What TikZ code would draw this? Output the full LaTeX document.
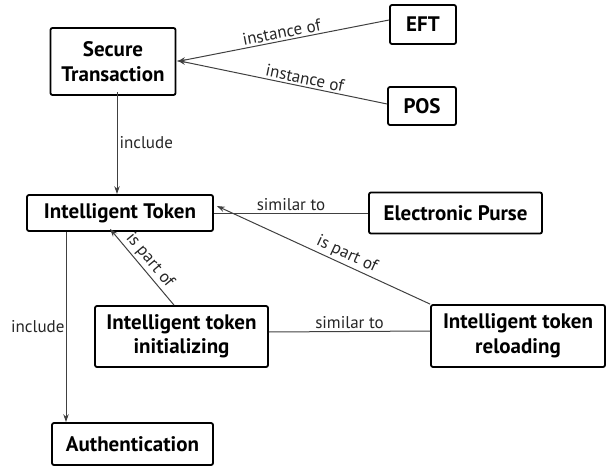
\documentclass[tikz,border=0pt]{standalone}
\usepackage{fontspec}
\setmainfont{PT Sans}
\usetikzlibrary{arrows.meta}
\begin{document}
\begin{tikzpicture}[x=1pt,y=-1pt,
  box/.style={draw=black, line width=1.8pt, rounded corners=2pt, align=center,
    font=\fontsize{21}{24.5}\selectfont\bfseries, inner sep=0pt},
  conn/.style={draw=black!75, line width=1pt},
  arr/.style={conn, -{Stealth[length=8pt,width=5.5pt]}},
  lab/.style={font=\fontsize{17}{19}\selectfont, text=black!85, inner sep=2pt}]
\useasboundingbox (0,0) rectangle (608,468);
\node[box, minimum width=125pt, minimum height=67pt] (st) at (113,61.5) {Secure\\Transaction};
\node[box, minimum width=66pt, minimum height=39pt] (eft) at (423,24.5) {EFT};
\node[box, minimum width=68pt, minimum height=38pt] (pos) at (422,106) {POS};
\node[box, minimum width=186pt, minimum height=36pt] (it) at (120,213) {Intelligent Token};
\node[box, minimum width=173pt, minimum height=41pt] (ep) at (455.5,213) {Electronic Purse};
\node[box, minimum width=173pt, minimum height=61pt] (init) at (181.5,336.5) {Intelligent token\\initializing};
\node[box, minimum width=174pt, minimum height=62pt] (rel) at (518,336) {Intelligent token\\reloading};
\node[box, minimum width=161pt, minimum height=42pt] (auth) at (132.5,444) {Authentication};

\draw[arr] ([yshift=4.5pt]eft.west) -- ([xshift=1pt]st.east) node[lab, pos=0.5, sloped, above] {instance of};
\draw[arr] ([yshift=2pt]pos.west) -- ([xshift=1pt,yshift=1pt]st.east) node[lab, pos=0.4, sloped, above] {instance of};
\draw[arr] ([xshift=4pt,yshift=4pt]st.south) -- ([xshift=-3pt]it.north) node[lab, pos=0.5, right] {include};
\draw[arr] ([xshift=-54pt]it.south) -- ([xshift=-66.5pt]auth.north) node[lab, pos=0.5, left, inner sep=1pt] {include};
\draw[conn] (it.east) -- (ep.west) node[lab, pos=0.5, above] {similar to};
\draw[arr] ([xshift=-7.5pt]init.north) -- ([xshift=-10pt,yshift=3pt]it.south) node[lab, pos=0.5, sloped, above] {is part of};
\draw[arr] (rel.north west) -- ([xshift=3pt,yshift=7pt]it.east) node[lab, pos=0.41, sloped, above] {is part of};
\draw[conn] ([yshift=4.5pt]init.east) -- ([yshift=5pt]rel.west) node[lab, pos=0.5, above] {similar to};
\end{tikzpicture}
\end{document}
